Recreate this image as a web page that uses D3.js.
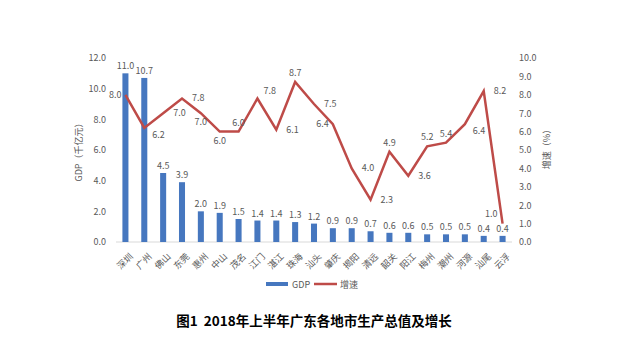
<!DOCTYPE html>
<html><head><meta charset="utf-8">
<script src="https://cdn.jsdelivr.net/npm/d3@7/dist/d3.min.js"></script>
<style>
body{margin:0;background:#fff;}
text{font-family:"Noto Sans CJK SC","Noto Sans",sans-serif;}
</style></head>
<body><svg id="c" width="640" height="348"></svg>
<script>
const cities = ["深圳","广州","佛山","东莞","惠州","中山","茂名","江门","湛江","珠海","汕头","肇庆","揭阳","清远","韶关","阳江","梅州","潮州","河源","汕尾","云浮"];
const gdp = [11.0,10.7,4.5,3.9,2.0,1.9,1.5,1.4,1.4,1.3,1.2,0.9,0.9,0.7,0.6,0.6,0.5,0.5,0.5,0.4,0.4];
const growth = [8.0,6.2,7.0,7.8,7.0,6.0,6.0,7.8,6.1,8.7,7.5,6.4,4.0,2.3,4.9,3.6,5.2,5.4,6.4,8.2,1.0];
const leftTicks = [0,2,4,6,8,10,12];
const rightTicks = [0,1,2,3,4,5,6,7,8,9,10];
// label placement codes for growth labels
const growthLabelPlace = ["l","rb","r","r","b","b","t","rt","r","t","r","l","r","r","t","r","t","t","rb","r","lt"];

const svg = d3.select("#c");
const pTop=58, pBottom=242, pLeft=116, pRight=512;
const x = d3.scaleBand().domain(cities).range([pLeft,pRight]).paddingInner(0.68).paddingOuter(0.34);
const yL = d3.scaleLinear().domain([0,12]).range([pBottom,pTop]);
const yR = d3.scaleLinear().domain([0,10]).range([pBottom,pTop]);
const grey="#595959", blue="#4677bf", red="#be4b48";

svg.append("line").attr("x1",pLeft).attr("x2",pRight).attr("y1",pBottom).attr("y2",pBottom).attr("stroke","#d9d9d9").attr("stroke-width",1);

const la = svg.append("g").attr("transform",`translate(${pLeft-7},0)`)
  .call(d3.axisLeft(yL).tickValues(leftTicks).tickFormat(d3.format(".1f")).tickSize(0));
la.select(".domain").remove();
la.selectAll("text").attr("fill",grey).style("font-size","9px");
const ra = svg.append("g").attr("transform",`translate(${pRight+4},0)`)
  .call(d3.axisRight(yR).tickValues(rightTicks).tickFormat(d3.format(".1f")).tickSize(0));
ra.select(".domain").remove();
ra.selectAll("text").attr("fill",grey).style("font-size","9px");

const xa = svg.append("g").attr("transform",`translate(0,${pBottom})`)
  .call(d3.axisBottom(x).tickSize(0));
xa.select(".domain").remove();
xa.selectAll("text").attr("fill",grey).style("font-size","9px")
  .attr("text-anchor","end").attr("dy","0").attr("dx","0")
  .attr("transform","translate(6,13) rotate(-45)");

svg.append("g").selectAll("rect").data(cities).join("rect")
  .attr("x",d=>x(d)).attr("width",x.bandwidth())
  .attr("y",(d,i)=>yL(gdp[i])).attr("height",(d,i)=>pBottom-yL(gdp[i]))
  .attr("fill",blue);
svg.append("g").selectAll("text").data(cities).join("text")
  .attr("x",d=>x(d)+x.bandwidth()/2).attr("y",(d,i)=>yL(gdp[i])-4)
  .attr("text-anchor","middle").attr("fill",grey).style("font-size","9px")
  .text((d,i)=>gdp[i].toFixed(1));

const cx = d=>x(d)+x.bandwidth()/2;
const line = d3.line().x((d,i)=>cx(cities[i])).y(d=>yR(d));
svg.append("path").datum(growth).attr("d",line).attr("fill","none")
  .attr("stroke",red).attr("stroke-width",2.5).attr("stroke-linejoin","miter");

const off = {l:[-4,3,"end"],r:[10,3,"start"],t:[0,-6,"middle"],b:[0,12,"middle"],
  rb:[8,10,"start"],rt:[6,-4,"start"],lt:[-5,-7,"end"]};
svg.append("g").selectAll("text").data(growth).join("text")
  .attr("x",(d,i)=>cx(cities[i])+off[growthLabelPlace[i]][0])
  .attr("y",(d,i)=>yR(d)+off[growthLabelPlace[i]][1])
  .attr("text-anchor",(d,i)=>off[growthLabelPlace[i]][2])
  .attr("fill",grey).style("font-size","9px")
  .text(d=>d.toFixed(1));

svg.append("text").attr("transform",`translate(82,150) rotate(-90)`).attr("text-anchor","middle")
  .attr("fill",grey).style("font-size","9px").text("GDP（千亿元）");
svg.append("text").attr("transform",`translate(550,147) rotate(-90)`).attr("text-anchor","middle")
  .attr("fill",grey).style("font-size","9px").text("增速（%）");

svg.append("rect").attr("x",266).attr("y",282).attr("width",22).attr("height",4).attr("fill",blue);
svg.append("text").attr("x",292).attr("y",287.5).attr("fill",grey).style("font-size","9px").text("GDP");
svg.append("line").attr("x1",314).attr("x2",337).attr("y1",284).attr("y2",284).attr("stroke",red).attr("stroke-width",2.5);
svg.append("text").attr("x",340).attr("y",287.5).attr("fill",grey).style("font-size","9px").text("增速");

svg.append("text").attr("x",314).attr("y",326).attr("text-anchor","middle").attr("fill","#000")
  .attr("xml:space","preserve")
  .style("font-size","13.5px").style("font-weight","bold").text("图1\u00a0\u00a02018年上半年广东各地市生产总值及增长");
</script></body></html>
